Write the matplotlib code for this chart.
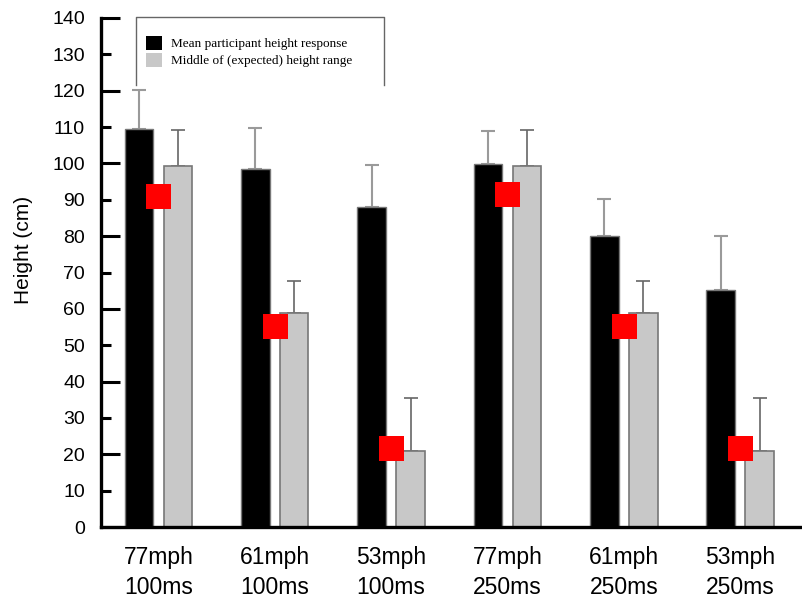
import numpy as np
import matplotlib
matplotlib.use("Agg")
import matplotlib.pyplot as plt
from matplotlib.patches import Patch
from matplotlib.lines import Line2D
from matplotlib.ticker import FixedLocator, FormatStrFormatter

# conditions (speed / occlusion time)
conditions = ["77mph\n100ms", "61mph\n100ms", "53mph\n100ms",
              "77mph\n250ms", "61mph\n250ms", "53mph\n250ms"]
mean_resp = [109.4, 98.4, 88.0, 99.8, 80.0, 65.2]      # mean participant height response
mean_err = [10.9, 11.4, 11.6, 9.1, 10.2, 14.8]
expected_mid = [99.3, 58.9, 20.9, 99.3, 58.9, 20.9]    # middle of expected height range
expected_err = [9.9, 8.8, 14.6, 9.9, 8.8, 14.6]
red_marks = [91.0, 55.3, 21.6, 91.6, 55.3, 21.6]

plt.rcParams['font.family'] = ['Liberation Sans', 'DejaVu Sans']

fig = plt.figure(figsize=(8.03, 6.02), dpi=100)
ax = fig.add_axes([101/803, 1-527/602, 1-101/803, (527-18)/602])

x = np.arange(len(conditions))
w = 0.245
off = 0.167

# error bars first (lower cap hidden behind bars)
ax.errorbar(x - off, mean_resp, yerr=[np.zeros(6), mean_err], fmt='none',
            ecolor='#9a9a9a', elinewidth=1.5, capsize=5, capthick=1.5, zorder=1)
ax.errorbar(x + off, expected_mid, yerr=[np.zeros(6), expected_err], fmt='none',
            ecolor='#666666', elinewidth=1.2, capsize=5, capthick=1.2, zorder=1)

ax.bar(x - off, mean_resp, width=w, color='black', edgecolor='#777777', linewidth=1, zorder=2)
ax.bar(x + off, expected_mid, width=w, color='#c8c8c8', edgecolor='#777777', linewidth=1.2, zorder=2)

ax.plot(x, red_marks, linestyle='none', marker='s', markersize=18,
        color='#ff0000', markeredgewidth=0, zorder=3)

ax.set_xlim(-0.494, 5.54)
ax.set_ylim(0, 140)

ax.yaxis.set_major_locator(FixedLocator(np.arange(0, 141, 20)))
ax.yaxis.set_minor_locator(FixedLocator(np.arange(10, 140, 20)))
ax.yaxis.set_minor_formatter(FormatStrFormatter('%d'))
ax.tick_params(axis='y', which='major', direction='in', length=14, width=2.2,
               pad=11.5, labelsize=14)
ax.tick_params(axis='y', which='minor', direction='in', length=7, width=2.2,
               pad=11.5, labelsize=14)

ax.set_xticks(x)
ax.set_xticklabels(conditions, fontsize=16.5, linespacing=1.35)
ax.tick_params(axis='x', length=0, pad=14)

for s in ['top', 'right']:
    ax.spines[s].set_visible(False)
for s in ['left', 'bottom']:
    ax.spines[s].set_linewidth(2.4)

ax.set_ylabel("Height (cm)", fontsize=15)
ax.yaxis.set_label_coords(-0.097, 0.545)

# legend (frame drawn separately: open at the bottom)
handles = [Patch(facecolor='black', edgecolor='none'),
           Patch(facecolor='#c8c8c8', edgecolor='none')]
fig.legend(handles, ["Mean participant height response", "Middle of (expected) height range"],
           loc='upper left', bbox_to_anchor=(146/803, 1-35.5/602), frameon=False,
           prop={'family': 'Liberation Serif', 'size': 9.5},
           handlelength=1.25, handleheight=1.29, handletextpad=0.66,
           labelspacing=0.2, borderpad=0, borderaxespad=0)

fx = lambda p: p/803
fy = lambda p: 1 - p/602
fig.add_artist(Line2D([fx(136), fx(136), fx(384), fx(384)],
                      [fy(85), fy(17), fy(17), fy(85)],
                      color='#666666', linewidth=1))

fig.savefig("out.png", dpi=100)
